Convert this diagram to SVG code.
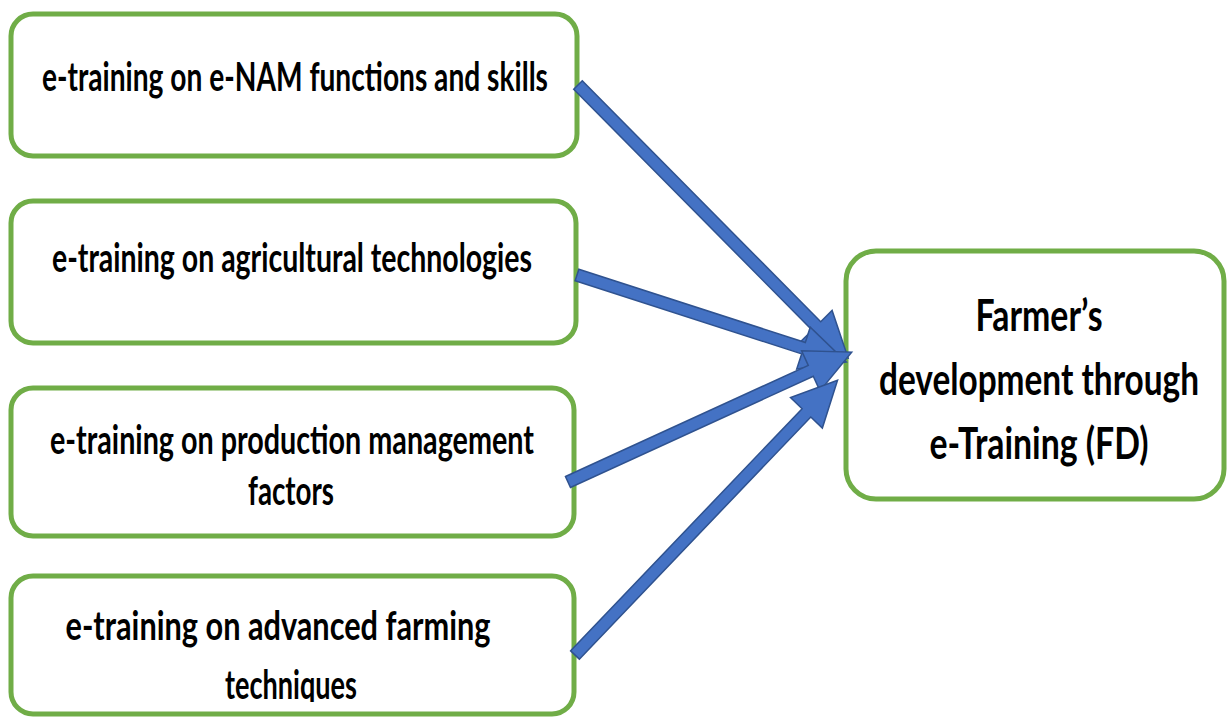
<svg xmlns="http://www.w3.org/2000/svg" width="1227" height="717" viewBox="0 0 1227 717">
<style>
.box{fill:#fff;stroke:#70ad47;stroke-width:5}
.t{font-family:Lato,"Liberation Sans",sans-serif;font-weight:bold;font-size:40px;fill:#000;text-anchor:middle}
.tb{font-size:43px}
.arr{fill:#4472c4;stroke:#2f528f;stroke-width:1.5;stroke-linejoin:miter}
</style>
<defs>
<clipPath id="clipbottom"><rect x="0" y="0" width="1227" height="702"/></clipPath>
</defs>
<rect width="1227" height="717" fill="#fff"/>
<g id="n1">
<rect class="box" x="11" y="14" width="566" height="142" rx="22"/>
<text class="t" x="295" y="91" textLength="506" lengthAdjust="spacingAndGlyphs">e-training on e-NAM functions and skills</text>
</g>
<g id="n2">
<rect class="box" x="11" y="201" width="565" height="142" rx="22"/>
<text class="t" x="292" y="272" textLength="480" lengthAdjust="spacingAndGlyphs">e-training on agricultural technologies</text>
</g>
<g id="n3">
<rect class="box" x="11" y="388" width="563" height="148" rx="22"/>
<text class="t" x="292" y="454" textLength="484" lengthAdjust="spacingAndGlyphs">e-training on production management</text>
<text class="t" x="291" y="505" textLength="86" lengthAdjust="spacingAndGlyphs">factors</text>
</g>
<g id="n4">
<rect class="box" x="11" y="576" width="563" height="138" rx="22"/>
<text class="t" x="278" y="640" textLength="425" lengthAdjust="spacingAndGlyphs">e-training on advanced farming</text>
<text class="t" x="291" y="699" textLength="132" lengthAdjust="spacingAndGlyphs" clip-path="url(#clipbottom)">techniques</text>
</g>
<g id="n5">
<rect class="box" x="846" y="251" width="378" height="248" rx="30"/>
<g transform="translate(1039,0) scale(0.8,1)">
<text class="t tb" x="0" y="331" textLength="159" lengthAdjust="spacingAndGlyphs">Farmer’s</text>
<text class="t tb" x="0" y="395" textLength="400" lengthAdjust="spacingAndGlyphs">development through</text>
<text class="t tb" x="0" y="459" textLength="274" lengthAdjust="spacingAndGlyphs">e-Training (FD)</text>
</g>
</g>
<g id="connectors">
<polygon class="arr" transform="translate(578,85) rotate(45.3)" points="0,-6 339,-6 339,-22 384,0 339,22 339,6 0,6"/>
<polygon class="arr" transform="translate(577,275) rotate(17.9)" points="0,-6 238,-6 238,-22 283,0 238,22 238,6 0,6"/>
<polygon class="arr" transform="translate(568,482) rotate(-24.6)" points="0,-6 267,-6 267,-22 312,0 267,22 267,6 0,6"/>
<polygon class="arr" transform="translate(575,655) rotate(-46.3)" points="0,-6 335,-6 335,-22 380,0 335,22 335,6 0,6"/>
</g>
</svg>
